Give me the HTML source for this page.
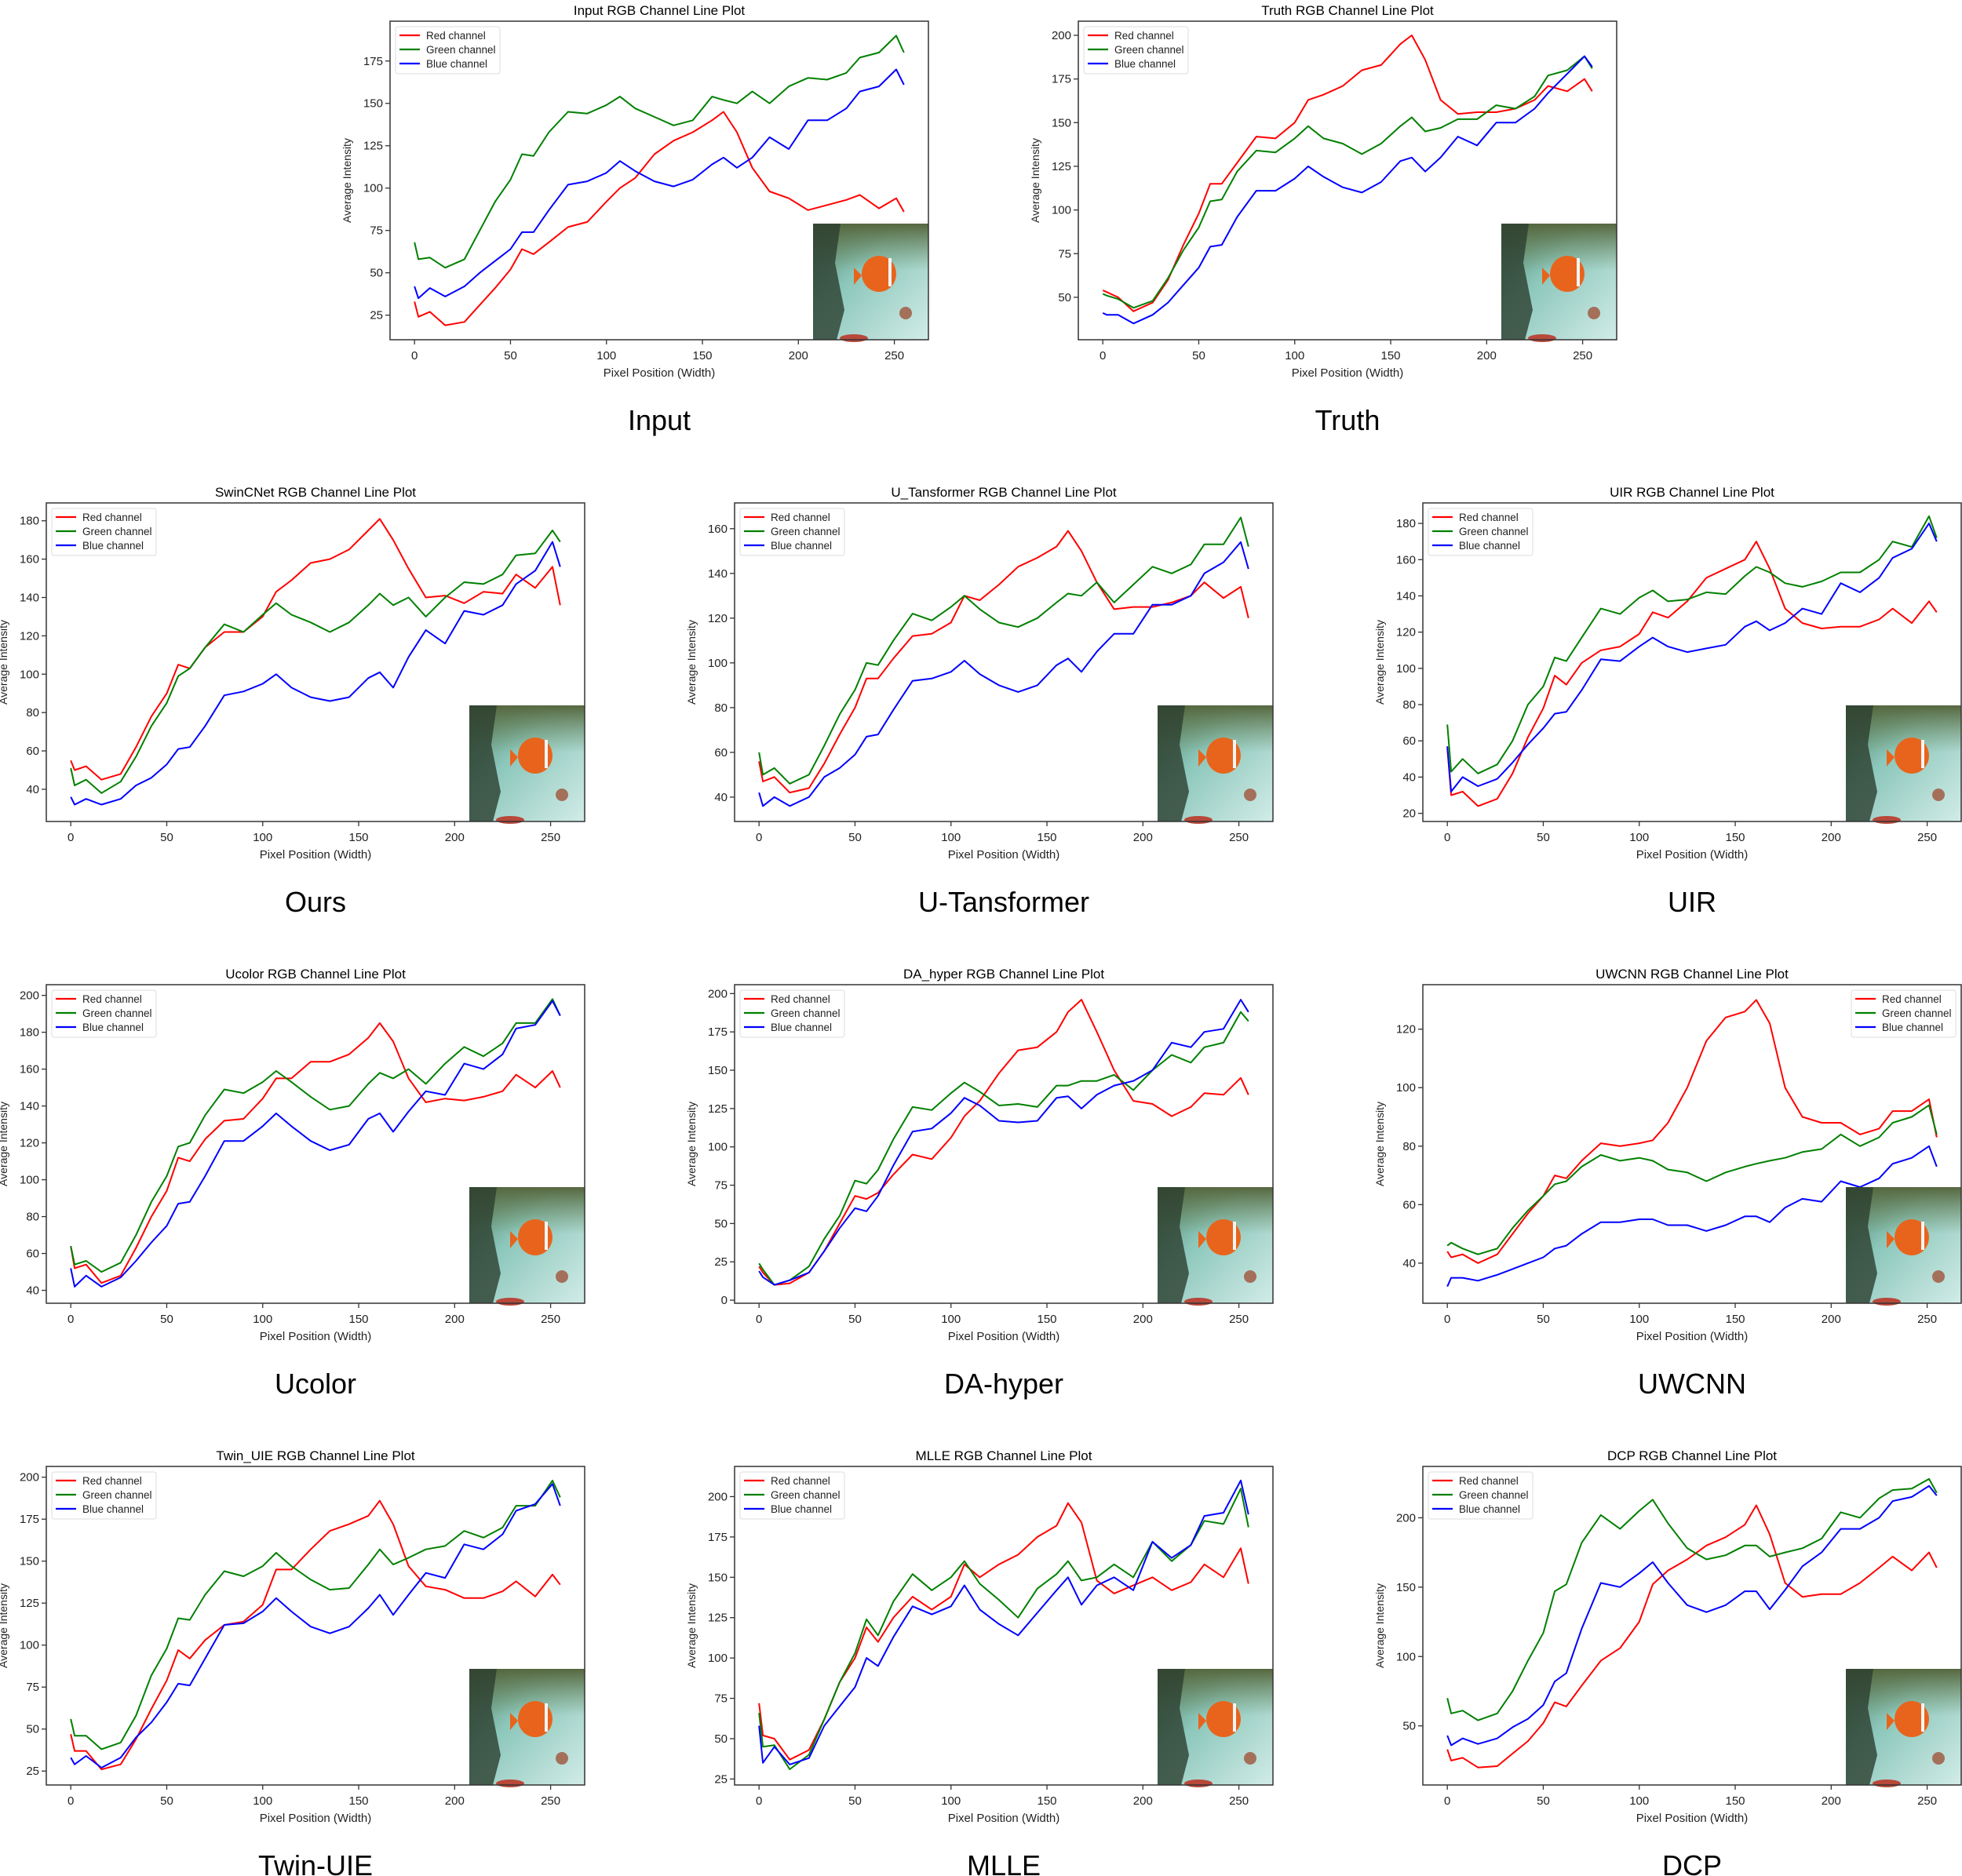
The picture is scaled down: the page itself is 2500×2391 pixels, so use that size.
<!DOCTYPE html>
<html><head><meta charset="utf-8">
<style>
html,body{margin:0;padding:0;background:#fff;}
svg{display:block;font-family:"Liberation Sans","DejaVu Sans",sans-serif;}
</style></head>
<body>
<svg id="fig" width="2500" height="2391" viewBox="0 0 2500 2391" xmlns="http://www.w3.org/2000/svg">
<defs>
<linearGradient id="sea" x1="0" y1="0" x2="1" y2="1"><stop offset="0" stop-color="#4f7a5a"/><stop offset="0.4" stop-color="#8cc7bb"/><stop offset="1" stop-color="#d2ece8"/></linearGradient>
<linearGradient id="reef" x1="0" y1="0" x2="0" y2="1"><stop offset="0" stop-color="#56673f"/><stop offset="1" stop-color="#6f8a5e" stop-opacity="0"/></linearGradient>
</defs>
<rect width="2500" height="2391" fill="#fff"/>
</svg>
<script>
const X = [0,2,8,16,26,34,42,50,56,62,70,80,90,100,107,115,125,135,145,155,161,168,176,185,195,205,215,225,232,242,251,255];

const inputRed   = [33,24,27,19,21,31,41,52,64,61,68,77,80,92,100,106,120,128,133,140,145,133,112,98,94,87,90,93,96,88,94,86];
const inputGreen = [68,58,59,53,58,75,92,105,120,119,133,145,144,149,154,147,142,137,140,154,152,150,157,150,160,165,164,168,177,180,190,180];
const inputBlue  = [42,35,41,36,42,50,57,64,74,74,87,102,104,109,116,110,104,101,105,114,118,112,118,130,123,140,140,147,157,160,170,161];

const truthRed   = [54,53,50,42,47,60,80,98,115,115,127,142,141,150,163,166,171,180,183,195,200,186,163,155,156,156,158,163,171,168,175,168];
const truthGreen = [52,51,49,44,48,61,77,90,105,106,122,134,133,141,148,141,138,132,138,148,153,145,147,152,152,160,158,165,177,180,188,181];
const truthBlue  = [41,40,40,35,40,47,57,67,79,80,96,111,111,118,125,119,113,110,116,128,130,122,130,142,137,150,150,158,167,178,188,182];

const oursRed    = [55,50,52,45,48,62,78,90,105,103,114,122,122,130,143,149,158,160,165,175,181,170,155,140,141,137,143,142,152,145,156,136];
const oursGreen  = [51,42,45,38,44,57,73,85,99,103,114,126,122,131,137,131,127,122,127,136,142,136,140,130,140,148,147,152,162,163,175,169];
const oursBlue   = [36,32,35,32,35,42,46,53,61,62,73,89,91,95,100,93,88,86,88,98,101,93,109,123,116,133,131,136,147,154,169,156];

const utRed      = [56,47,49,42,44,55,68,80,93,93,102,112,113,118,130,128,135,143,147,152,159,150,136,124,125,125,127,130,136,129,134,120];
const utGreen    = [60,50,53,46,50,63,77,88,100,99,110,122,119,125,130,124,118,116,120,127,131,130,136,127,135,143,140,144,153,153,165,152];
const utBlue     = [42,36,40,36,40,49,53,59,67,68,79,92,93,96,101,95,90,87,90,99,102,96,105,113,113,126,126,130,140,145,154,142];

const uirRed     = [56,30,32,24,28,42,62,78,96,91,103,110,112,119,131,128,137,150,155,160,170,155,133,125,122,123,123,127,133,125,137,131];
const uirGreen   = [69,43,50,42,47,60,80,90,106,104,117,133,130,139,143,137,138,142,141,151,156,153,147,145,148,153,153,160,170,167,184,172];
const uirBlue    = [57,32,40,35,39,48,58,67,75,76,88,105,104,112,117,112,109,111,113,123,126,121,125,133,130,147,142,150,161,166,180,170];

const ucolorRed   = [64,52,54,44,48,63,80,94,112,110,122,132,133,144,155,155,164,164,168,177,185,175,155,142,144,143,145,148,157,150,159,150];
const ucolorGreen = [64,54,56,50,55,70,88,102,118,120,135,149,147,153,159,153,145,138,140,152,158,155,160,152,163,172,167,174,185,185,198,189];
const ucolorBlue  = [52,42,48,42,47,56,66,75,87,88,102,121,121,129,136,129,121,116,119,133,136,126,137,148,146,163,160,168,182,184,197,189];

const daRed      = [22,18,10,11,18,32,50,68,66,70,82,95,92,106,120,130,148,163,165,175,188,196,175,150,130,128,120,126,135,134,145,134];
const daGreen    = [24,20,10,13,22,40,55,78,76,85,105,126,124,135,142,136,127,128,126,140,140,143,143,147,137,150,160,155,165,168,188,182];
const daBlue     = [19,15,10,13,18,32,47,60,58,68,88,110,112,122,132,127,117,116,117,132,133,125,134,140,143,150,168,165,175,177,196,188];

const uwcnnRed   = [44,42,43,40,43,50,57,63,70,69,75,81,80,81,82,88,100,116,124,126,130,122,100,90,88,88,84,86,92,92,96,83];
const uwcnnGreen = [46,47,45,43,45,52,58,63,67,68,73,77,75,76,75,72,71,68,71,73,74,75,76,78,79,84,80,83,88,90,94,84];
const uwcnnBlue  = [32,35,35,34,36,38,40,42,45,46,50,54,54,55,55,53,53,51,53,56,56,54,59,62,61,68,66,69,74,76,80,73];

const twinRed    = [47,37,37,26,29,44,62,79,97,92,103,112,114,124,145,145,157,168,172,177,186,172,147,135,133,128,128,132,138,129,142,136];
const twinGreen  = [56,46,46,38,42,58,82,98,116,115,130,144,141,147,155,147,139,133,134,148,157,148,152,157,159,168,164,170,183,183,198,188];
const twinBlue   = [33,29,34,27,33,45,54,66,77,76,92,112,113,120,128,120,111,107,111,122,130,118,130,143,140,160,157,166,180,184,196,183];

const mlleRed    = [72,52,50,37,43,62,85,100,119,110,125,138,130,138,158,150,158,164,175,182,196,184,148,140,145,150,142,147,158,150,168,146];
const mlleGreen  = [66,45,46,31,40,62,85,103,124,114,135,152,142,150,160,146,136,125,143,152,160,148,150,158,150,172,160,170,185,183,205,181];
const mlleBlue   = [58,35,45,34,38,58,70,82,100,95,113,132,127,132,145,130,121,114,128,142,150,133,145,150,142,172,162,170,188,190,210,189];

const dcpRed     = [33,25,27,20,21,30,39,52,67,64,79,97,106,125,152,162,170,180,186,195,209,188,153,143,145,145,153,164,172,162,175,164];
const dcpGreen   = [70,59,61,54,59,75,97,117,147,152,182,202,192,205,213,196,178,170,173,180,180,172,175,178,185,204,200,214,220,221,228,218];
const dcpBlue    = [43,36,41,37,41,49,55,65,82,88,120,153,150,160,168,153,137,132,137,147,147,134,148,165,175,192,192,200,212,215,223,216];

const titles = ["Input","Truth","SwinCNet","U_Tansformer","UIR","Ucolor","DA_hyper","UWCNN","Twin_UIE","MLLE","DCP"];
const captions = ["Input","Truth","Ours","U-Tansformer","UIR","Ucolor","DA-hyper","UWCNN","Twin-UIE","MLLE","DCP"];
const yLows  = [10.5,25.7,23.2,29.1,15.5,33,-2,26.3,16.7,21.3,7.4];
const yHighs = [198.5,208.1,189.3,171.5,191.3,205.8,205.8,135.2,206.4,218.7,237];
const yTickSets = [
  [25,50,75,100,125,150,175],
  [50,75,100,125,150,175,200],
  [40,60,80,100,120,140,160,180],
  [40,60,80,100,120,140,160],
  [20,40,60,80,100,120,140,160,180],
  [40,60,80,100,120,140,160,180,200],
  [0,25,50,75,100,125,150,175,200],
  [40,60,80,100,120],
  [25,50,75,100,125,150,175,200],
  [25,50,75,100,125,150,175,200],
  [50,100,150,200]
];
const xTicks = [0,50,100,150,200,250];
const seriesSets = [
  [inputRed,inputGreen,inputBlue],[truthRed,truthGreen,truthBlue],
  [oursRed,oursGreen,oursBlue],[utRed,utGreen,utBlue],[uirRed,uirGreen,uirBlue],
  [ucolorRed,ucolorGreen,ucolorBlue],[daRed,daGreen,daBlue],[uwcnnRed,uwcnnGreen,uwcnnBlue],
  [twinRed,twinGreen,twinBlue],[mlleRed,mlleGreen,mlleBlue],[dcpRed,dcpGreen,dcpBlue]
];
const seriesNames = ["Red channel","Green channel","Blue channel"];
const seriesColors = ["#ff0000","#008000","#0000ff"];

const panelLeft = [497,1374,59,936,1813,59,936,1813,59,936,1813];
const panelTop  = [27,27,641,641,641,1255,1255,1255,1869,1869,1869];
const W = 686, H = 406;

const NS = "http://www.w3.org/2000/svg";
const fig = document.getElementById("fig");
function mk(tag, attrs, parent){
  const e = document.createElementNS(NS, tag);
  for (const k in attrs) e.setAttribute(k, attrs[k]);
  (parent||fig).appendChild(e);
  return e;
}

for (let c = 0; c < titles.length; c++) {
  const L = panelLeft[c], T = panelTop[c];
  const g = mk("g", {});
  
  
  const xs = v => L + (v + 12.75) / 280.5 * W;
  const ys = v => T + H - (v - yLows[c]) / (yHighs[c] - yLows[c]) * H;

  const t = mk("text", {x: L + W/2, y: T - 8, "text-anchor": "middle", "font-size": 17, fill: "#000"}, g);
  t.textContent = titles[c] + " RGB Channel Line Plot";
  
  

  const sets = seriesSets[c];
  for (let s = 0; s < 3; s++) {
    const vals = sets[s];
    let d = "";
    for (let i = 0; i < X.length; i++) d += (i ? "L" : "M") + xs(X[i]).toFixed(1) + " " + ys(vals[i]).toFixed(1);
    const p = mk("path", {d: d, fill: "none", stroke: seriesColors[s], "stroke-width": 2, "stroke-linejoin": "round"}, g);
    
    
  }

  const ix = L + W - 147, iy = T + H - 148;
  const ig = mk("g", {}, g);
  
  
  mk("rect", {x: ix, y: iy, width: 147, height: 148, fill: "url(#sea)"}, ig);
  mk("rect", {x: ix, y: iy, width: 147, height: 60, fill: "url(#reef)"}, ig);
  mk("path", {d: `M${ix} ${iy}L${ix+35} ${iy}L${ix+28} ${iy+50}L${ix+40} ${iy+110}L${ix+30} ${iy+148}L${ix} ${iy+148}Z`, fill: "#2c3f30", opacity: 0.8}, ig);
  mk("path", {d: `M${ix+62} ${iy+66}L${ix+52} ${iy+56}L${ix+52} ${iy+78}Z`, fill: "#e8641c"}, ig);
  mk("ellipse", {cx: ix+84, cy: iy+64, rx: 22, ry: 23, fill: "#e8641c"}, ig);
  mk("rect", {x: ix+96, y: iy+44, width: 4, height: 36, fill: "#f4f4f4"}, ig);
  mk("ellipse", {cx: ix+118, cy: iy+114, rx: 8, ry: 8, fill: "#a4705a"}, ig);
  mk("ellipse", {cx: ix+52, cy: iy+146, rx: 18, ry: 5, fill: "#b8483a"}, ig);

  const fr = mk("rect", {x: L, y: T, width: W, height: H, fill: "none", stroke: "#333", "stroke-width": 1.5}, g);
  
  

  for (const v of xTicks) {
    const px = xs(v);
    mk("line", {x1: px, x2: px, y1: T + H, y2: T + H + 6, stroke: "#333", "stroke-width": 1.3}, g);
    const tl = mk("text", {x: px, y: T + H + 25, "text-anchor": "middle", "font-size": 15, fill: "#222"}, g);
    tl.textContent = v;
    
    
  }
  const xl = mk("text", {x: L + W/2, y: T + H + 47, "text-anchor": "middle", "font-size": 15, fill: "#222"}, g);
  xl.textContent = "Pixel Position (Width)";
  
  

  for (const v of yTickSets[c]) {
    const py = ys(v);
    mk("line", {x1: L - 6, x2: L, y1: py, y2: py, stroke: "#333", "stroke-width": 1.3}, g);
    const tl = mk("text", {x: L - 9, y: py + 5, "text-anchor": "end", "font-size": 15, fill: "#222"}, g);
    tl.textContent = v;
    
    
  }
  const ylx = L - (yTickSets[c].some(v => v >= 100) ? 50 : 42), yly = T + H/2;
  const yl = mk("text", {x: ylx, y: yly, "text-anchor": "middle", "font-size": 14, fill: "#222", transform: `rotate(-90 ${ylx} ${yly})`}, g);
  yl.textContent = "Average Intensity";
  
  

  const lx = (c === 7) ? L + W - 140 : L + 7, ly = T + 7;
  const lg = mk("g", {}, g);
  
  
  mk("rect", {x: lx, y: ly, width: 133, height: 60, rx: 3, fill: "#fff", "fill-opacity": 0.85, stroke: "#ddd", "stroke-width": 1}, lg);
  for (let s = 0; s < 3; s++) {
    const ey = ly + 11 + s * 18;
    mk("line", {x1: lx + 5, x2: lx + 31, y1: ey, y2: ey, stroke: seriesColors[s], "stroke-width": 2.2}, lg);
    const et = mk("text", {x: lx + 39, y: ey + 5, "font-size": 13.5, fill: "#222"}, lg);
    et.textContent = seriesNames[s];
    
    
  }

  const cap = mk("text", {x: L + W/2, y: T + 521, "text-anchor": "middle", "font-size": 36, fill: "#000"}, g);
  cap.textContent = captions[c];
  
  
}
</script>
</body></html>
